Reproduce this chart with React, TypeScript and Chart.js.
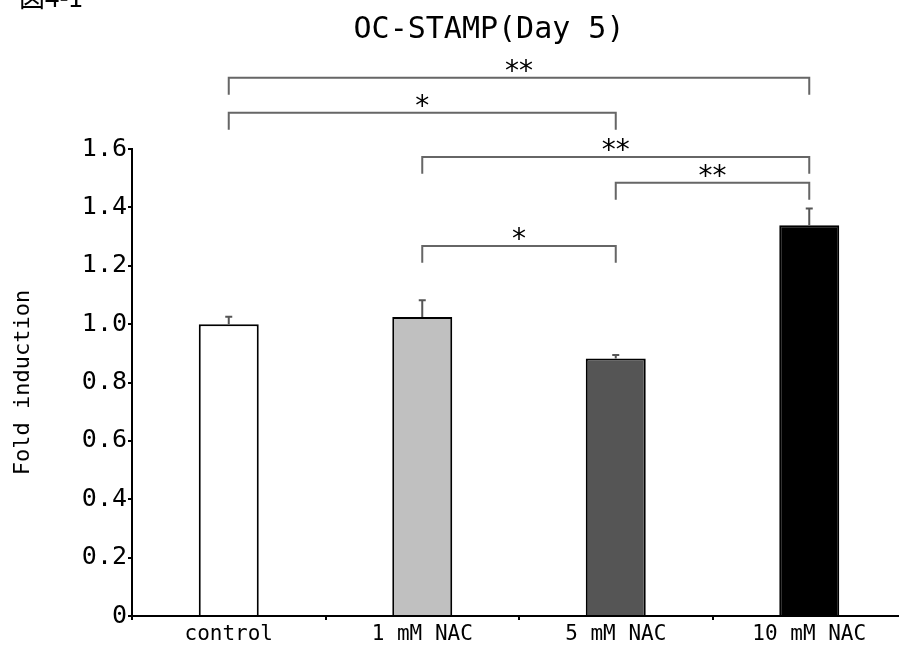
import React, { useEffect, useRef } from "react";
import { Chart, registerables } from "chart.js";

Chart.register(...registerables);

const categories = ["control", "1 mM NAC", "5 mM NAC", "10 mM NAC"];
const foldValues = [1.0, 1.024, 0.882, 1.339];
const errorValues = [0.025, 0.058, 0.012, 0.057];
const barColors = ["#ffffff", "#c0c0c0", "#555555", "#000000"];
const yTicks = [0, 0.2, 0.4, 0.6, 0.8, 1.0, 1.2, 1.4, 1.6];

// significance brackets: from index, to index, bracket level (data units), label
const bracketFrom = [0, 0, 1, 2, 1];
const bracketTo = [3, 2, 3, 3, 2];
const bracketLevel = [1.844, 1.724, 1.573, 1.484, 1.268];
const bracketLabel = ["**", "*", "**", "**", "*"];

const MONO = "'DejaVu Sans Mono', 'Liberation Mono', monospace";

const overlayPlugin = {
  id: "overlay",
  afterDatasetsDraw(chart: any) {
    const ctx = chart.ctx;
    const x = chart.scales.x;
    const y = chart.scales.y;
    ctx.save();
    // error bars (upper only)
    ctx.strokeStyle = "#555555";
    ctx.lineWidth = 2;
    foldValues.forEach((v, i) => {
      const px = x.getPixelForValue(i);
      const top = y.getPixelForValue(v + errorValues[i]);
      const base = y.getPixelForValue(v);
      ctx.beginPath();
      ctx.moveTo(px, base);
      ctx.lineTo(px, top);
      ctx.moveTo(px - 3.5, top);
      ctx.lineTo(px + 3.5, top);
      ctx.stroke();
    });
    // brackets
    const drop = 0.058;
    ctx.strokeStyle = "#666666";
    ctx.lineWidth = 2;
    ctx.fillStyle = "#000000";
    ctx.font = "28px 'DejaVu Sans', sans-serif";
    ctx.textAlign = "center";
    ctx.textBaseline = "alphabetic";
    bracketLevel.forEach((lvl, k) => {
      const x1 = x.getPixelForValue(bracketFrom[k]);
      const x2 = x.getPixelForValue(bracketTo[k]);
      const yl = y.getPixelForValue(lvl);
      const yd = y.getPixelForValue(lvl - drop);
      ctx.beginPath();
      ctx.moveTo(x1, yd);
      ctx.lineTo(x1, yl);
      ctx.lineTo(x2, yl);
      ctx.lineTo(x2, yd);
      ctx.stroke();
      ctx.fillText(bracketLabel[k], (x1 + x2) / 2, yl + 2);
    });
    // title
    ctx.textBaseline = "middle";
    ctx.font = "30px " + MONO;
    ctx.fillText("OC-STAMP(Day 5)", chart.chartArea.left + 357, 30);
    // corner figure label (cropped in original)
    ctx.textAlign = "left";
    ctx.textBaseline = "alphabetic";
    ctx.font = "26px 'Noto Sans CJK JP', sans-serif";
    ctx.fillText("図4-1", 19, 7);
    ctx.restore();
  },
};

export default function App() {
  const ref = useRef<HTMLCanvasElement>(null);
  useEffect(() => {
    if (!ref.current) return;
    const chart = new Chart(ref.current, {
      type: "bar",
      data: {
        labels: categories,
        datasets: [
          {
            data: foldValues,
            backgroundColor: barColors,
            borderColor: "#000000",
            borderWidth: 2,
            barPercentage: 0.31,
            categoryPercentage: 1,
          },
        ],
      },
      options: {
        responsive: false,
        animation: false,
        devicePixelRatio: 1,
        layout: { padding: { top: 149, right: 4, left: 0, bottom: 0 } },
        plugins: { legend: { display: false }, tooltip: { enabled: false }, title: { display: false } },
        scales: {
          x: {
            offset: true,
            grid: { offset: true, drawOnChartArea: false, drawTicks: true, tickLength: 4, color: "#000", lineWidth: 2 },
            border: { display: true, color: "#000", width: 2 },
            ticks: { color: "#000", font: { family: MONO, size: 21 }, padding: 2, maxRotation: 0 },
            afterFit: (s: any) => {
              s.height = 41;
            },
          },
          y: {
            min: 0,
            max: 1.6,
            afterBuildTicks: (s: any) => {
              s.ticks = yTicks.map((v) => ({ value: v }));
            },
            grid: { drawOnChartArea: false, drawTicks: true, tickLength: 4, color: "#000", lineWidth: 2 },
            border: { display: true, color: "#000", width: 2 },
            ticks: {
              color: "#000",
              font: { family: MONO, size: 25 },
              padding: 1,
              callback: (v: any) => (Number(v) === 0 ? "0" : Number(v).toFixed(1)),
            },
            title: {
              display: true,
              text: "Fold induction",
              color: "#000",
              font: { family: MONO, size: 22 },
              padding: { top: 10, bottom: 0 },
            },
            afterFit: (s: any) => {
              s.width = 132;
            },
          },
        },
      },
      plugins: [overlayPlugin],
    });
    return () => chart.destroy();
  }, []);
  return (
    <div style={{ position: "fixed", left: 0, top: 0, width: 899, height: 657, overflow: "hidden", background: "#fff" }}>
      <canvas ref={ref} width={910} height={657} style={{ display: "block" }} />
    </div>
  );
}
